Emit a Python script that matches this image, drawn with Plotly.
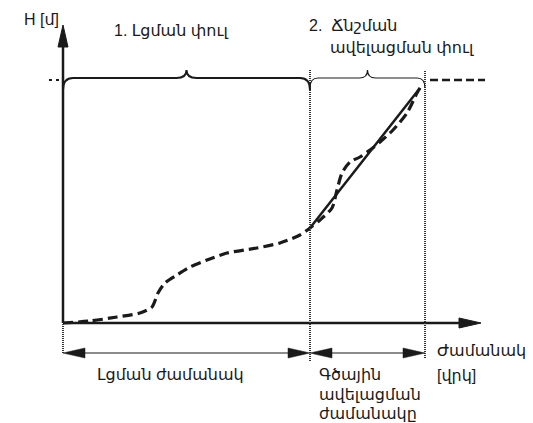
import plotly.graph_objects as go

# ---- schematic data (time units / height units of the sketch) ----
t_curve = [0, 27, 54, 77, 89, 95, 102, 114, 127, 144, 164, 194, 217, 237, 247,
           257, 269, 274, 279, 287, 297, 307, 317, 330, 344, 354, 357]
h_curve = [0, 2, 6, 10, 16, 30, 40, 48, 56, 63, 70, 75, 80, 88, 95,
           103, 115, 133, 150, 161, 166, 173, 181, 193, 210, 230, 235]
t_linear = [247, 357]
h_linear = [95, 235]
t_fill_end = 247          # end of filling phase
t_linear_end = 362        # end of linear pressure-rise phase
h_max = 243               # max height level
t_max_dash = [367, 422]   # dashed continuation of the max level
t_axis_end = 418          # x-axis arrow tip
h_axis_end = 298          # y-axis arrow tip
h_span = -30              # level of the duration arrows

y_label = "H [մ]"
x_label_lines = ["Ժամանակ", "[վրկ]"]
phase1_label = "1. Լցման փուլ"
phase2_lines = ["2.  Ճնշման", "ավելացման փուլ"]
span1_label = "Լցման ժամանակ"
span2_lines = ["Գծային", "ավելացման", "ժամանակը"]

INK = "#1a1a1a"
FONT = "Liberation Sans, Arial, DejaVu Sans, sans-serif"

fig = go.Figure()

# measured (dashed) curve
fig.add_trace(go.Scatter(x=t_curve, y=h_curve, mode="lines",
                         line=dict(color=INK, width=3.2, dash="10px,5px",
                                   shape="spline", smoothing=0.7),
                         hoverinfo="skip", showlegend=False))
# linear rise (solid)
fig.add_trace(go.Scatter(x=t_linear, y=h_linear, mode="lines",
                         line=dict(color=INK, width=2.5),
                         hoverinfo="skip", showlegend=False))
# dashed continuation of max level
fig.add_trace(go.Scatter(x=t_max_dash, y=[h_max, h_max], mode="lines",
                         line=dict(color=INK, width=2.5, dash="8px,4px"),
                         hoverinfo="skip", showlegend=False))

shapes = []
# axes
shapes.append(dict(type="line", x0=0, y0=0, x1=0, y1=h_axis_end - 20,
                   line=dict(color=INK, width=2.5)))
shapes.append(dict(type="line", x0=0, y0=0, x1=t_axis_end - 20, y1=0,
                   line=dict(color=INK, width=2.5)))
# axis arrow heads
shapes.append(dict(type="path",
                   path=f"M {-5},{h_axis_end-22} L 0,{h_axis_end} L 5,{h_axis_end-22} Z",
                   fillcolor=INK, line=dict(color=INK, width=1)))
shapes.append(dict(type="path",
                   path=f"M {t_axis_end-22},-5 L {t_axis_end},0 L {t_axis_end-22},5 Z",
                   fillcolor=INK, line=dict(color=INK, width=1)))

# dotted vertical boundaries
for tx, top, bot in [(t_fill_end, h_max + 10, h_span - 8),
                     (t_linear_end, h_max + 10, h_span - 5),
                     (0, 0, h_span)]:
    shapes.append(dict(type="line", x0=tx, x1=tx, y0=bot, y1=top,
                       line=dict(color="#333333", width=2, dash="1px,1px")))
# small dotted tick at max level left of y-axis
shapes.append(dict(type="line", x0=-14, x1=-3, y0=h_max, y1=h_max,
                   line=dict(color=INK, width=2, dash="3px,4px")))


def brace(t0, t1, hb, drop, rise, r, width):
    mid = (t0 + t1) / 2
    p = (f"M {t0},{hb-drop} Q {t0},{hb} {t0+r},{hb} "
         f"L {mid-r},{hb} Q {mid},{hb} {mid},{hb+rise} "
         f"Q {mid},{hb} {mid+r},{hb} L {t1-r},{hb} "
         f"Q {t1},{hb} {t1},{hb-drop}")
    return dict(type="path", path=p, line=dict(color=INK, width=width))


shapes.append(brace(0, t_fill_end, h_max + 2, 12, 8, 10, 2))
shapes.append(brace(t_fill_end, t_linear_end, h_max + 2, 10, 8, 8, 1.2))


def double_arrow(t0, t1, h):
    L, W = 22, 5
    out = [dict(type="line", x0=t0 + L, x1=t1 - L, y0=h, y1=h,
                line=dict(color=INK, width=1.2))]
    out.append(dict(type="path", path=f"M {t0},{h} L {t0+L},{h+W} L {t0+L},{h-W} Z",
                    fillcolor=INK, line=dict(color=INK, width=0.5)))
    out.append(dict(type="path", path=f"M {t1},{h} L {t1-L},{h+W} L {t1-L},{h-W} Z",
                    fillcolor=INK, line=dict(color=INK, width=0.5)))
    return out


shapes += double_arrow(0, t_fill_end, h_span)
shapes += double_arrow(t_fill_end, t_linear_end, h_span)

fs = 16
ann = [
    dict(x=-41, y=304, text=y_label),
    dict(x=49, y=293, text=phase1_label),
    dict(x=244, y=298, text=phase2_lines[0]),
    dict(x=265, y=276, text=phase2_lines[1]),
    dict(x=32, y=-51, text=span1_label),
    dict(x=254, y=-51, text=span2_lines[0]),
    dict(x=254, y=-71, text=span2_lines[1]),
    dict(x=254, y=-90, text=span2_lines[2]),
    dict(x=372, y=-27, text=x_label_lines[0]),
    dict(x=372, y=-52, text=x_label_lines[1]),
]
annotations = []
for a in ann:
    a.update(xref="x", yref="y", showarrow=False, xanchor="left", yanchor="middle",
             font=dict(family=FONT, size=fs, color=INK))
    annotations.append(a)

# page body has an 8px margin: figure occupies pixels 8..533 x 8..423
fig.update_layout(
    width=525, height=415, autosize=False,
    margin=dict(l=0, r=0, t=0, b=0),
    paper_bgcolor="white", plot_bgcolor="white",
    xaxis=dict(range=[-55, 470], visible=False, fixedrange=True),
    yaxis=dict(range=[-100, 315], visible=False, fixedrange=True),
    shapes=shapes, annotations=annotations, showlegend=False,
)

fig.write_html("out.html", config={"displayModeBar": False})
